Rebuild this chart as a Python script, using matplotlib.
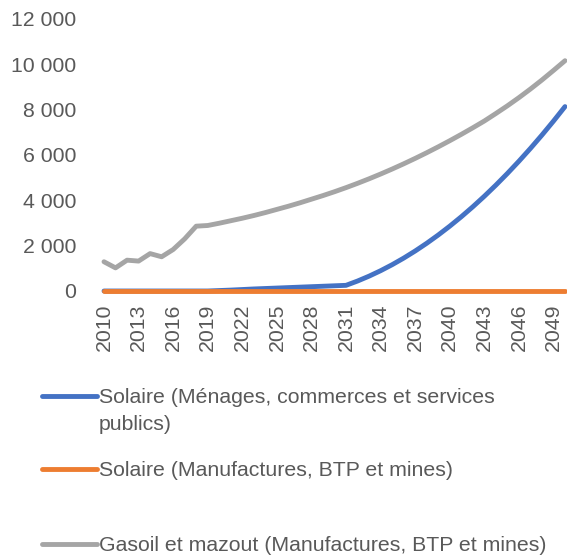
import matplotlib.pyplot as plt
from matplotlib.lines import Line2D
from matplotlib.ticker import FuncFormatter, MultipleLocator

plt.rcParams["font.family"] = ["Liberation Sans", "DejaVu Sans"]

years = list(range(2010, 2051))

solaire_menages = [0, 0, 0, 0, 0, 0, 0, 0, 0, 0,
                   20, 40, 65, 90, 110, 130, 150, 170, 190, 210,
                   230, 250, 440, 655, 895, 1160, 1450, 1765, 2105, 2470,
                   2860, 3275, 3715, 4180, 4670, 5185, 5725, 6290, 6880, 7495,
                   8135]
solaire_manuf = [0] * 41
gasoil = [1290, 1020, 1360, 1320, 1650, 1510, 1830, 2300, 2860, 2890,
          2990, 3100, 3210, 3330, 3460, 3600, 3740, 3890, 4050, 4210,
          4380, 4560, 4750, 4950, 5160, 5380, 5610, 5850, 6100, 6360,
          6630, 6910, 7200, 7500, 7830, 8170, 8530, 8910, 9310, 9730,
          10160]

labels = ["Solaire (Ménages, commerces et services\npublics)",
          "Solaire (Manufactures, BTP et mines)",
          "Gasoil et mazout (Manufactures, BTP et mines)"]
colors = ["#4472C4", "#ED7D31", "#A5A5A5"]
series = [solaire_menages, solaire_manuf, gasoil]

W, H = 567, 558
fs = 15.3
fig = plt.figure(figsize=(W / 100, H / 100), dpi=100)
ax = fig.add_axes([104 / W, 1 - 291 / H, (565 - 104) / W, (291 - 19) / H])

for vals, col in zip(series, colors):
    ax.plot(years, vals, color=col, lw=3.5, solid_capstyle="round",
            solid_joinstyle="round", clip_on=False, zorder=3)

ax.set_xlim(2010, 2050)
ax.set_ylim(0, 12000)
ax.yaxis.set_major_locator(MultipleLocator(2000))
ax.yaxis.set_major_formatter(FuncFormatter(lambda v, p: f"{v:,.0f}".replace(",", " ")))
ax.set_xticks(years[::3])
ax.tick_params(axis="x", rotation=90, length=0, pad=9, labelsize=fs, labelcolor="#595959")
ax.tick_params(axis="y", length=0, pad=20, labelsize=fs, labelcolor="#595959")
for s in ["top", "right", "left"]:
    ax.spines[s].set_visible(False)
ax.spines["bottom"].set_color("#D9D9D9")
ax.spines["bottom"].set_zorder(1)

# legende manuelle
ys = [396, 469, 544]
for lab, col, y in zip(labels, colors, ys):
    fig.add_artist(Line2D([42 / W, 97 / W], [1 - y / H, 1 - y / H], color=col,
                          lw=3.5, solid_capstyle="round"))
    fig.text(99 / W, 1 - (y - 8) / H, lab, color="#595959", fontsize=fs,
             va="top", ha="left", linespacing=1.55,
             transform=fig.transFigure)

fig.savefig("out.png", dpi=100)
